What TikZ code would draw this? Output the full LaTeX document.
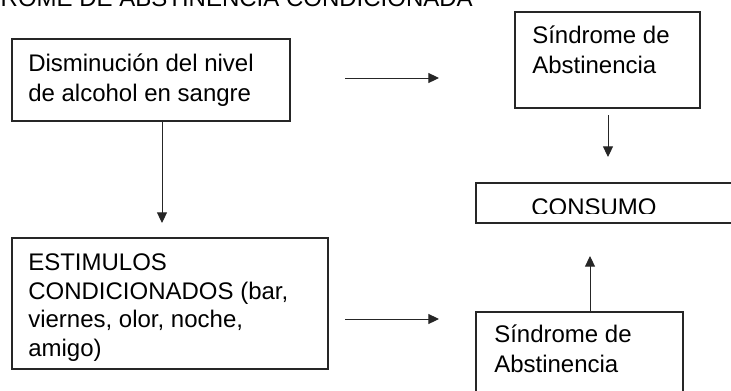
\documentclass[tikz,border=0pt]{standalone}
\usepackage{fontspec}
\setmainfont{Liberation Sans}
\usetikzlibrary{arrows.meta,fit}
\begin{document}
\begin{tikzpicture}[x=0.75pt,y=-0.75pt,
  box/.style={draw=black!85, line width=0.8pt, inner sep=0pt},
  txt/.style={anchor=base west, inner sep=0pt, font=\fontsize{18}{22}\selectfont},
  arr/.style={draw=black!85, line width=0.75pt, -{Triangle[length=8pt,width=7.5pt]}}]
\useasboundingbox (0,0) rectangle (731,390);
\clip (0,0) rectangle (731,390);

% heading
\node[txt, anchor=base east] (title) at (473,6) {SÍNDROME DE ABSTINENCIA CONDICIONADA};

% boxes
\node[box, fit={(12,39) (290,121)}] (b1) {};
\node[box, fit={(515,12) (700,108)}] (b2) {};
\node[box, fit={(476,183) (745,223)}] (cons) {};
\node[box, fit={(12,238) (328,369)}] (est) {};
\node[box, fit={(476,312) (683,400)}] (b3) {};

% box texts
\node[txt] (b1a) at (28,71) {Disminución del nivel};
\node[txt] (b1b) at (28,101) {de alcohol en sangre};
\node[txt] (b2a) at (532,43) {Síndrome de};
\node[txt] (b2b) at (532,73) {Abstinencia};
\begin{scope}
  \clip (476,183) rectangle (745,213);
  \node[txt] (consa) at (531,215) {CONSUMO};
\end{scope}
\node[txt] (esta) at (28,270) {ESTIMULOS};
\node[txt] (estb) at (28,299) {CONDICIONADOS (bar,};
\node[txt] (estc) at (28,327) {viernes, olor, noche,};
\node[txt] (estd) at (28,356) {amigo)};
\node[txt] (b3a) at (494,342) {Síndrome de};
\node[txt] (b3b) at (494,372) {Abstinencia};

% connector ends
\coordinate (h1s) at (345,78);
\coordinate (h1e) at (439,78);
\coordinate (h2s) at (345,319);
\coordinate (h2e) at (439,319);
\coordinate (v1e) at (162,223);
\coordinate (v2s) at (608,115);
\coordinate (v2e) at (608,157);
\coordinate (upe) at (590,256);

% connectors
\draw[arr] (h1s) -- (h1e);
\draw[arr] (h2s) -- (h2e);
\draw[arr] (b1.south -| v1e) -- (v1e);
\draw[arr] (v2s) -- (v2e);
\draw[arr] (b3.north -| upe) -- (upe);
\end{tikzpicture}
\end{document}
